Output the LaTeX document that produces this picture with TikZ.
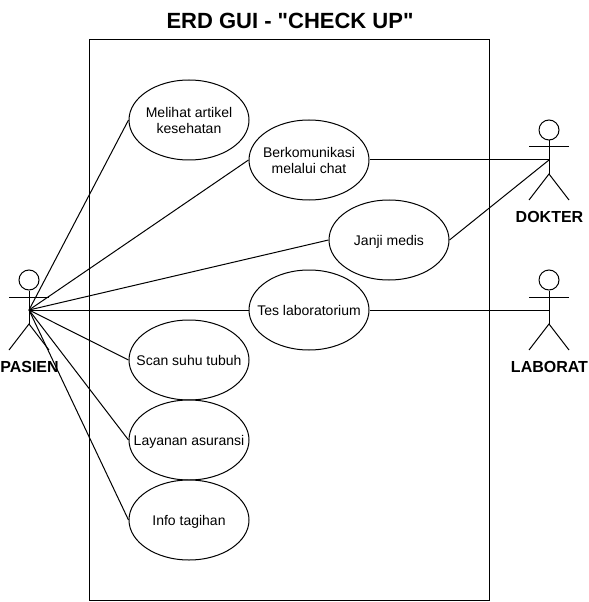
\documentclass[tikz,border=0pt]{standalone}
\usepackage{fontspec}
\setmainfont{Liberation Sans}[Ligatures=TeXOff]
\usetikzlibrary{positioning,shapes.geometric}
\tikzset{
  usecase/.style={draw,ellipse,fill=white,minimum width=90pt,minimum height=60pt,inner sep=-30pt,text depth=0pt,align=center,font=\fontsize{10.5pt}{12pt}\selectfont},
  actorhead/.style={draw,circle,minimum size=15pt,inner sep=0pt},
  actorname/.style={font=\fontsize{12pt}{14pt}\selectfont\bfseries},
  assoc/.style={line width=0.75pt}
}
\begin{document}
\begin{tikzpicture}[x=0.75pt,y=-0.75pt,line width=0.75pt]
  \useasboundingbox (0,0) rectangle (588,602);
  \clip (0,0) rectangle (588,602);
  % title and system box
  \node[font=\fontsize{16.5pt}{18pt}\selectfont\bfseries] (title) at (290,21) {ERD GUI - "CHECK UP"};
  \draw (89,40) rectangle (489,600);
  % use cases
  \node[usecase] (artikel) at (189,120) {Melihat artikel\\kesehatan};
  \node[usecase] (chat) at (309,160) {Berkomunikasi\\melalui chat};
  \node[usecase] (janji) at (389,240) {Janji medis};
  \node[usecase] (tes) at (309,310) {Tes laboratorium};
  \node[usecase] (suhu) at (189,360) {Scan suhu tubuh};
  \node[usecase] (asuransi) at (189,440) {Layanan asuransi};
  \node[usecase] (tagihan) at (189,520) {Info tagihan};
  % actors: name, x, y of the head, label
  \foreach \n/\x/\y/\t in {pasien/29/280/PASIEN,dokter/549/130/DOKTER,lab/549/280/LABORAT} {
    \node[actorhead] (\n head) at (\x,\y) {};
    \coordinate (\n) at (\x,\y+30);
    \coordinate (\n hip) at (\x,\y+44);
    \coordinate (\n armL) at (\x-20,\y+17);
    \coordinate (\n armR) at (\x+20,\y+17);
    \coordinate (\n legL) at (\x-20,\y+70);
    \coordinate (\n legR) at (\x+20,\y+70);
    \draw (\n head) -- (\n hip);
    \draw (\n armL) -- (\n armR);
    \draw (\n legL) -- (\n hip) -- (\n legR);
    \node[actorname] (\n name) at (\x+0.5,\y+87) {\t};
  }
  % associations
  \foreach \u in {artikel,chat,janji,tes,suhu,asuransi,tagihan} {
    \draw[assoc] (pasien) -- (\u.west);
  }
  \draw[assoc] (chat.east) -- (dokter);
  \draw[assoc] (janji.east) -- (dokter);
  \draw[assoc] (tes.east) -- (lab);
\end{tikzpicture}
\end{document}
